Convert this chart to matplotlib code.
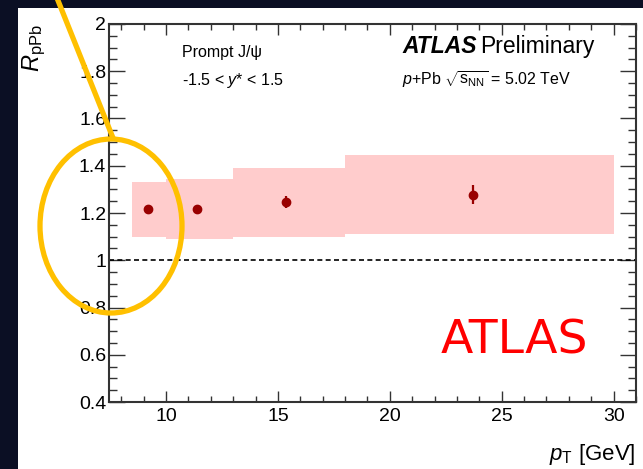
import matplotlib
matplotlib.use("Agg")
import matplotlib.pyplot as plt
from matplotlib.patches import Rectangle, Ellipse
from matplotlib.ticker import MultipleLocator
import numpy as np

plt.rcParams['font.family'] = ['Liberation Sans', 'DejaVu Sans']
plt.rcParams['mathtext.fontset'] = 'custom'
plt.rcParams['mathtext.rm'] = 'Liberation Sans'
plt.rcParams['mathtext.it'] = 'Liberation Sans:italic'
plt.rcParams['mathtext.bf'] = 'Liberation Sans:bold'

# Data
pt_centers = [9.2, 11.4, 15.35, 23.7]
rppb = [1.218, 1.219, 1.246, 1.277]
stat_err = [0.012, 0.012, 0.024, 0.04]
bin_lo = [8.5, 10.0, 13.0, 18.0]
bin_hi = [10.0, 13.0, 18.0, 30.0]
sys_lo = [1.099, 1.090, 1.100, 1.112]
sys_hi = [1.332, 1.345, 1.390, 1.446]

W, H = 643, 469
fig = plt.figure(figsize=(W/100, H/100), dpi=100)
fig.patch.set_facecolor('#0b0f24')
fig.patches.append(Rectangle((18/W, 0), 1-18/W, (H-8)/H, transform=fig.transFigure,
                             facecolor='white', edgecolor='none', zorder=-10))

l, r, t, b = 109, 636, 24, 402
ax = fig.add_axes([l/W, (H-b)/H, (r-l)/W, (b-t)/H])
ax.set_facecolor('white')
ax.set_xlim(7.45, 31.0)
ax.set_ylim(0.4, 2.0)

for lo, hi, slo, shi in zip(bin_lo, bin_hi, sys_lo, sys_hi):
    ax.add_patch(Rectangle((lo, slo), hi-lo, shi-slo, facecolor='#ffcccc', edgecolor='none', zorder=1))

ax.axhline(1.0, color='black', ls=(0, (3, 2)), lw=1.2, zorder=2)
ax.errorbar(pt_centers, rppb, yerr=stat_err, fmt='o', color='#990000', ms=6, elinewidth=1.6, capsize=0, zorder=3)

ax.xaxis.set_major_locator(MultipleLocator(5))
ax.xaxis.set_minor_locator(MultipleLocator(1))
ax.yaxis.set_major_locator(MultipleLocator(0.2))
ax.yaxis.set_minor_locator(MultipleLocator(0.05))
ax.tick_params(axis='both', which='both', direction='in', top=True, right=True, color='#333333')
ax.tick_params(axis='y', which='major', length=11.5, width=1.0, labelsize=14, pad=2)
ax.tick_params(axis='y', which='minor', length=5.8, width=1.0)
ax.tick_params(axis='x', which='major', length=8, width=1.0, labelsize=14, pad=4)
ax.tick_params(axis='x', which='minor', length=4, width=1.0)
ax.yaxis.set_major_formatter(matplotlib.ticker.FuncFormatter(lambda v, p: ('%g' % round(v, 2))))
for s in ax.spines.values():
    s.set_linewidth(1.5)
    s.set_color('#333333')

ax.set_ylabel(r'$R_{\mathrm{pPb}}$', fontsize=17, loc='top')
ax.yaxis.set_label_coords(-0.116, 1.0)
ax.set_xlabel(r'$p_{\mathrm{T}}$ [GeV]', fontsize=16, loc='right')
ax.xaxis.set_label_coords(1.0, -0.105)

def px(x, y):
    return (x - l) / (r - l), (b - y) / (b - t)

ax.text(*px(182, 57), 'Prompt J/ψ', transform=ax.transAxes, fontsize=11.5, va='baseline')
ax.text(*px(182, 85), r'-1.5 < $y$* < 1.5', transform=ax.transAxes, fontsize=11.5, va='baseline')
ax.text(*px(402, 53), 'ATLAS', transform=ax.transAxes, fontsize=16.5, fontweight='bold',
        fontstyle='italic', va='baseline')
ax.text(*px(480, 53), 'Preliminary', transform=ax.transAxes, fontsize=16.5, va='baseline')
ax.text(*px(402, 85), r'$p$+Pb $\sqrt{\mathrm{s}_{\mathrm{NN}}}$ = 5.02 TeV', transform=ax.transAxes,
        fontsize=11.5, va='baseline')

# overlay annotations
ov = fig.add_axes([0, 0, 1, 1], facecolor='none')
ov.set_xlim(0, W)
ov.set_ylim(H, 0)
ov.axis('off')
ov.text(441, 353, 'ATLAS', color='#ff0000', fontsize=34, family='DejaVu Sans', va='baseline')
ov.plot([57, 113], [-2, 138], color='#ffc000', lw=3.8, solid_capstyle='butt')
ov.add_patch(Ellipse((111, 226), 142, 174, facecolor='none', edgecolor='#ffc000', lw=3.8))

fig.savefig('out.png', dpi=100, facecolor=fig.get_facecolor())
